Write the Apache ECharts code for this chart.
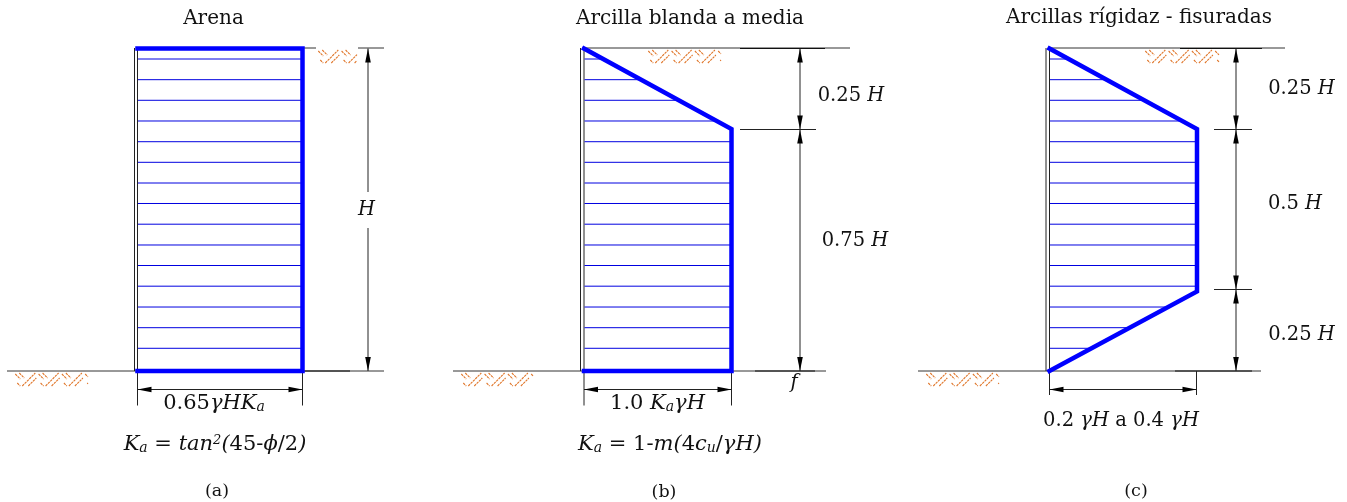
<!DOCTYPE html>
<html><head><meta charset="utf-8">
<script src="https://cdn.jsdelivr.net/npm/echarts@6/dist/echarts.min.js"></script>
<style>html,body{margin:0;padding:0;background:#fff}#c{width:1347px;height:502px}</style>
</head><body><div id="c"></div>
<script>
// Envelopes: [horizontal drawing position, depth as a fraction of H]
const envelopeA = [[137.5,0],[302.5,0],[302.5,1],[137.5,1]];
const envelopeB = [[584,0],[731.5,0.25],[731.5,1],[584,1]];
const envelopeC = [[1049.5,0],[1197,0.25],[1197,0.7535],[1049.5,1]];
// Strut-load hatch lines: depth fractions and the end of each line per panel
const hatchDepths = [0.0326,0.0967,0.1606,0.2248,0.289,0.3529,0.4171,0.4806,0.5448,0.6093,0.6729,0.737,0.8016,0.8657,0.9296];
const hatchEndA = [301,301,301,301,301,301,301,301,301,301,301,301,301,301,301];
const hatchEndB = [600,639,677,715,730,730,730,730,730,730,730,730,730,730,730];
const hatchEndC = [1066,1104,1142,1180,1196,1196,1196,1196,1196,1196,1196,1196,1165,1127,1091];
const hatchStart = [138,584.5,1050];
// Black drawing lines: x1,y1,x2,y2
const groundLines = [[137,48,316,48],[358,48,384,48],[7,371,137,371],[302,371,384,371],[584,48,850,48],[453,371,584,371],[732,371,826,371],[1049,48,1285,48],[918,371,1261,371]];
const darkLines = [[137,48.5,303,48.5],[280,371,350,371],[740,48.5,825,48.5],[755,371,815,371],[1180,48.5,1262,48.5],[1175,371,1252,371]];
const wallLines = [[134.5,48,134.5,371],[137.5,48,137.5,371],[580.5,48,580.5,371],[584,48,584,371],[1046,48,1046,371],[1049.5,48,1049.5,371]];
const dimLines = [[368,48.5,368,192],[368,228,368,371],[137.5,389.5,302.5,389.5],[137.5,371,137.5,405.5],[302.5,371,302.5,405.5],
 [800,48.5,800,371],[740,129.5,816,129.5],[584,389.5,731.5,389.5],[584,371,584,405.5],[731.5,371,731.5,405.5],
 [1236,48.5,1236,371],[1214,129.5,1252,129.5],[1214,289.5,1252,289.5],[1049.5,389.5,1196.5,389.5],[1049.5,371,1049.5,395],[1196.5,371,1196.5,395]];
// Arrow tips: x, y, direction in degrees (0 = pointing right)
const arrowTips = [[368,48.5,-90],[368,371,90],[137.5,389.5,180],[302.5,389.5,0],
 [800,48.5,-90],[800,129.5,90],[800,129.5,-90],[800,371,90],[584,389.5,180],[731.5,389.5,0],
 [1236,48.5,-90],[1236,129.5,90],[1236,129.5,-90],[1236,289.5,90],[1236,289.5,-90],[1236,371,90],[1049.5,389.5,180],[1196.5,389.5,0]];
// Soil hatch patches: left, top, right
const soilPatches = [[318.3,49,357],[15.3,372,88],[648.3,49,721],[461.3,372,533],[1145.3,49,1219],[926.3,372,999]];
// Text: x, y, rich string
const titles = [[213.5,18.5,'Arena'],[690,19,'Arcilla blanda a media'],[1139,17.5,'Arcillas rígidaz - fisuradas']];
const captions = [[217,491.5,'(a)'],[664,492,'(b)'],[1136,491.5,'(c)']];
const dimTexts = [
 [366.5,209.5,'{i|H}'],
 [851,96,'{r|0.25 }{i|H}'],[855,241,'{r|0.75 }{i|H}'],
 [1301.5,89,'{r|0.25 }{i|H}'],[1295,204,'{r|0.5 }{i|H}'],[1301.5,335,'{r|0.25 }{i|H}'],
 [794,383,'{i|f}'],
 [1121,421,'{r|0.2 }{i|γH}{r| a 0.4 }{i|γH}']
];
const formulaTexts = [
 [214,404,'{R|0.65}{I|γHK}{sub|a}'],[657.5,404,'{R|1.0 }{I|K}{sub|a}{I|γH}'],
 [215,445,'{I|K}{sub|a}{R| = }{I|tan}{sup|2}{I|(}{R|45-}{I|ϕ}{R|/2}{I|)}'],
 [670,445,'{I|K}{sub|a}{R| = 1-}{I|m(}{R|4}{I|c}{sub|u}{R|/}{I|γH)}']
];

const serif = '"DejaVu Serif"';
const ink = '#111';
const rich = {
  r:{fontFamily:serif,fontSize:19.5,color:ink},
  i:{fontFamily:serif,fontSize:19.5,fontStyle:'italic',color:ink},
  R:{fontFamily:serif,fontSize:21,color:ink},
  I:{fontFamily:serif,fontSize:21,fontStyle:'italic',color:ink},
  sub:{fontFamily:serif,fontSize:14,fontStyle:'italic',color:ink,verticalAlign:'bottom',padding:[5,0,0,0]},
  sup:{fontFamily:serif,fontSize:13,fontStyle:'italic',color:ink,verticalAlign:'top',padding:[0,0,5,0]}
};
const motif = [[0,2,5,7],[4,1,9,6],[7,14,20,1],[13,14,21,6],[2,11,5,14]];
const tile = 23.3;

// One line per soil-hatch stroke, cut at the right edge of its patch
const soilStrokes = [];
soilPatches.forEach(p=>{
  for(let x=p[0];x<p[2];x+=tile){
    motif.forEach(m=>{
      let x1=x+m[0],y1=p[1]+m[1],x2=x+m[2],y2=p[1]+m[3];
      if(x1>=p[2]) return;
      if(x2>p[2]){const k=(p[2]-x1)/(x2-x1);x2=p[2];y2=y1+(y2-y1)*k;}
      soilStrokes.push([x1,y1,x2,y2]);
    });
  }
});

function segSeries(name, data, color, width, dash){
  return {type:'custom',name,yAxisIndex:1,silent:true,clip:false,data,
    renderItem(p,api){
      const a=api.coord([api.value(0),api.value(1)]),b=api.coord([api.value(2),api.value(3)]);
      const style={stroke:color,lineWidth:width,fill:null};
      if(dash) style.lineDash=dash;
      return {type:'line',shape:{x1:a[0],y1:a[1],x2:b[0],y2:b[1]},style};
    }};
}
function envelope(name,data){
  return {type:'line',name,data,showSymbol:false,silent:true,clip:false,animation:false,z:5,
    lineStyle:{color:'#0000ff',width:4.5,join:'miter',cap:'square'}};
}
function hatch(name,start,ends){
  const data=[];
  hatchDepths.forEach((d,i)=>{data.push([start,d],[ends[i],d],[null,null]);});
  return {type:'line',name,data,showSymbol:false,silent:true,clip:false,z:3,connectNulls:false,
    lineStyle:{color:'#0000e0',width:1}};
}
function texts(name,data,size){
  return {type:'scatter',name,yAxisIndex:1,silent:true,symbolSize:0,clip:false,z:8,
    itemStyle:{opacity:1},
    data:data.map(t=>({value:[t[0],t[1]],label:{formatter:t[2]}})),
    label:{show:true,position:'inside',align:'center',verticalAlign:'middle',
      fontFamily:serif,fontSize:size,color:ink,rich}};
}
const option = {
  animation:false,
  backgroundColor:'#fff',
  grid:{left:0,right:0,top:0,bottom:0},
  xAxis:{type:'value',min:0,max:1347,show:false},
  yAxis:[
    {type:'value',inverse:true,min:-0.15039,max:1.4062,show:false},
    {type:'value',inverse:true,min:0,max:502,show:false}
  ],
  tooltip:{show:false},
  series:[
    hatch('Carga A',hatchStart[0],hatchEndA),
    hatch('Carga B',hatchStart[1],hatchEndB),
    hatch('Carga C',hatchStart[2],hatchEndC),
    segSeries('Terreno',groundLines,'#333',1),
    segSeries('Terreno oscuro',darkLines,'#111',1),
    segSeries('Muro',wallLines,'#222',1),
    segSeries('Cotas',dimLines,'#222',1),
    segSeries('Suelo',soilStrokes,'#e0762a',1.1,[2.5,0.8]),
    {type:'custom',name:'Flechas',yAxisIndex:1,silent:true,clip:false,z:6,data:arrowTips,
      renderItem(p,api){
        const c=api.coord([api.value(0),api.value(1)]),t=api.value(2)*Math.PI/180;
        const L=14,W=2.8,u=[Math.cos(t),Math.sin(t)],n=[-u[1],u[0]];
        const pts=[[c[0],c[1]],
          [c[0]-u[0]*L+n[0]*W,c[1]-u[1]*L+n[1]*W],
          [c[0]-u[0]*L-n[0]*W,c[1]-u[1]*L-n[1]*W]];
        return {type:'polygon',shape:{points:pts},style:{fill:'#000',stroke:null}};
      }},
    envelope('Envolvente A',envelopeA),
    envelope('Envolvente B',envelopeB),
    envelope('Envolvente C',envelopeC),
    texts('Títulos',titles,20),
    texts('Pies',captions,17.5),
    texts('Cotas texto',dimTexts,19.5),
    texts('Fórmulas',formulaTexts,21)
  ]
};
const chart = echarts.init(document.getElementById('c'),null,{renderer:'canvas'});
chart.setOption(option);
</script></body></html>
